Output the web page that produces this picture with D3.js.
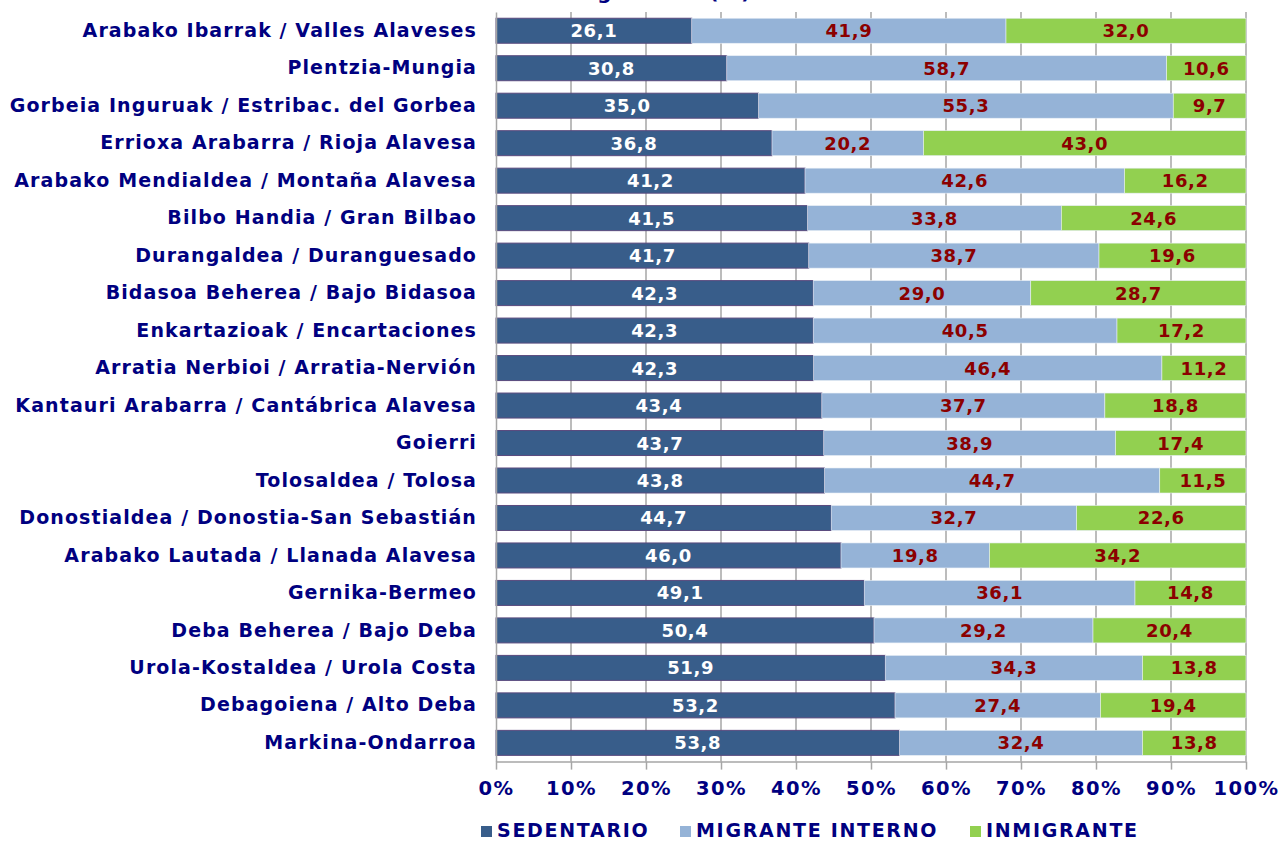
<!DOCTYPE html>
<html>
<head>
<meta charset="utf-8">
<script src="https://cdn.jsdelivr.net/npm/d3@7"></script>
<style>
  body { margin: 0; background: #fff; overflow: hidden; }
  text { font-family: "DejaVu Sans", Verdana, sans-serif; font-weight: bold; }
</style>
</head>
<body>
<div id="chart"></div>
<script>
// comarcas, from top to bottom
const comarcas = [
	"Arabako Ibarrak / Valles Alaveses",
	"Plentzia-Mungia",
	"Gorbeia Inguruak / Estribac. del Gorbea",
	"Errioxa Arabarra / Rioja Alavesa",
	"Arabako Mendialdea / Montaña Alavesa",
	"Bilbo Handia / Gran Bilbao",
	"Durangaldea / Duranguesado",
	"Bidasoa Beherea / Bajo Bidasoa",
	"Enkartazioak / Encartaciones",
	"Arratia Nerbioi / Arratia-Nervión",
	"Kantauri Arabarra / Cantábrica Alavesa",
	"Goierri",
	"Tolosaldea / Tolosa",
	"Donostialdea / Donostia-San Sebastián",
	"Arabako Lautada / Llanada Alavesa",
	"Gernika-Bermeo",
	"Deba Beherea / Bajo Deba",
	"Urola-Kostaldea / Urola Costa",
	"Debagoiena / Alto Deba",
	"Markina-Ondarroa"
];

const sedentario = [26.1, 30.8, 35.0, 36.8, 41.2, 41.5, 41.7, 42.3, 42.3, 42.3, 43.4, 43.7, 43.8, 44.7, 46.0, 49.1, 50.4, 51.9, 53.2, 53.8];
const migranteInterno = [41.9, 58.7, 55.3, 20.2, 42.6, 33.8, 38.7, 29.0, 40.5, 46.4, 37.7, 38.9, 44.7, 32.7, 19.8, 36.1, 29.2, 34.3, 27.4, 32.4];
const inmigrante = [32.0, 10.6, 9.7, 43.0, 16.2, 24.6, 19.6, 28.7, 17.2, 11.2, 18.8, 17.4, 11.5, 22.6, 34.2, 14.8, 20.4, 13.8, 19.4, 13.8];

const seriesNames = ["SEDENTARIO", "MIGRANTE INTERNO", "INMIGRANTE"];
const tickValues = [0, 0.1, 0.2, 0.3, 0.4, 0.5, 0.6, 0.7, 0.8, 0.9, 1];

const colors = ["#385d8a", "#95b3d7", "#92d050"];
const labelColors = ["#ffffff", "#8b0000", "#8b0000"];
const navy = "#000080";

let width = 1281, height = 841;
let margin = {top: 12, right: 35, bottom: 80, left: 496};

let svg = d3.select("#chart").append("svg")
	.attr("width", width)
	.attr("height", height);

// rows for the stack, 100% stacked so each row is normalised by its total
let rows = comarcas.map((c, i) => {
	let total = sedentario[i] + migranteInterno[i] + inmigrante[i];
	return {
		comarca: c,
		values: [sedentario[i], migranteInterno[i], inmigrante[i]],
		SEDENTARIO: sedentario[i] / total,
		"MIGRANTE INTERNO": migranteInterno[i] / total,
		INMIGRANTE: inmigrante[i] / total
	};
});

let stack = d3.stack().keys(seriesNames);
let stacked = stack(rows);

let x = d3.scaleLinear()
	.domain([0, 1])
	.range([margin.left, width - margin.right]);

let y = d3.scaleBand()
	.domain(comarcas)
	.range([margin.top, 761.6])
	.paddingInner(0.333)
	.paddingOuter(0.1665);

// title, mostly cut off by the top edge
svg.append("text")
	.attr("x", 752)
	.attr("y", -1)
	.attr("text-anchor", "end")
	.attr("fill", navy)
	.style("font-size", "20px")
	.style("letter-spacing", "1.5px")
	.text("Estatus migratorio (%)");

// gridlines
svg.append("g")
	.selectAll("line")
	.data(tickValues.slice(1))
	.enter().append("line")
	.attr("x1", d => x(d))
	.attr("x2", d => x(d))
	.attr("y1", margin.top)
	.attr("y2", y.range()[1])
	.attr("stroke", "#a6a6a6")
	.attr("stroke-width", 1.5);

// bars
let layers = svg.append("g")
	.selectAll("g")
	.data(stacked)
	.enter().append("g")
	.attr("fill", (d, i) => colors[i]);

layers.selectAll("rect")
	.data((d, i) => d.map(p => ({p: p, s: i})))
	.enter().append("rect")
	.attr("x", d => x(d.p[0]))
	.attr("y", d => y(d.p.data.comarca))
	.attr("width", d => x(d.p[1]) - x(d.p[0]))
	.attr("height", y.bandwidth())
	.attr("stroke", d => d.s === 0 ? "#5a4a7e" : "#e8eef6")
	.attr("stroke-width", d => d.s === 0 ? 1 : 0.6);

// data labels
layers.selectAll("text")
	.data((d, i) => d.map(p => ({p: p, s: i})))
	.enter().append("text")
	.attr("x", d => (x(d.p[0]) + x(d.p[1])) / 2)
	.attr("y", d => y(d.p.data.comarca) + y.bandwidth() / 2)
	.attr("dy", "0.36em")
	.attr("text-anchor", "middle")
	.attr("fill", d => labelColors[d.s])
	.style("font-size", "18px")
	.style("letter-spacing", "0.6px")
	.text(d => d3.format(".1f")(d.p.data.values[d.s]).replace(".", ","));

// y axis (labels only, plus the vertical line)
let yAxis = d3.axisLeft(y).tickSize(0).tickPadding(19);
let yG = svg.append("g")
	.attr("transform", "translate(" + margin.left + ",0)")
	.call(yAxis);
yG.select(".domain").attr("stroke", "#a6a6a6").attr("stroke-width", 1.5);
yG.selectAll("text")
	.attr("fill", navy)
	.style("font-size", "19px")
	.style("letter-spacing", "1.1px")
	.style("font-family", "'DejaVu Sans', Verdana, sans-serif")
	.style("font-weight", "bold");

// x axis
let xAxis = d3.axisBottom(x)
	.tickValues(tickValues)
	.tickFormat(d3.format(".0%"))
	.tickSizeInner(8)
	.tickSizeOuter(0)
	.tickPadding(12);
let xG = svg.append("g")
	.attr("transform", "translate(0," + y.range()[1] + ")")
	.call(xAxis);
xG.select(".domain").attr("stroke", "#a6a6a6").attr("stroke-width", 1.5);
xG.selectAll(".tick line").attr("stroke", "#a6a6a6").attr("stroke-width", 1.5);
xG.selectAll("text")
	.attr("fill", navy)
	.style("font-size", "19.5px")
	.style("letter-spacing", "1.5px")
	.style("font-family", "'DejaVu Sans', Verdana, sans-serif")
	.style("font-weight", "bold");

// legend
let legendX = [481, 680, 970];
let legend = svg.append("g")
	.selectAll("g")
	.data(seriesNames)
	.enter().append("g")
	.attr("transform", (d, i) => "translate(" + legendX[i] + ",826)");

legend.append("rect")
	.attr("width", 11)
	.attr("height", 11)
	.attr("fill", (d, i) => colors[i]);

legend.append("text")
	.attr("x", 16)
	.attr("y", 11)
	.attr("fill", navy)
	.style("font-size", "19px")
	.style("letter-spacing", "1.7px")
	.text(d => d);
</script>
</body>
</html>
